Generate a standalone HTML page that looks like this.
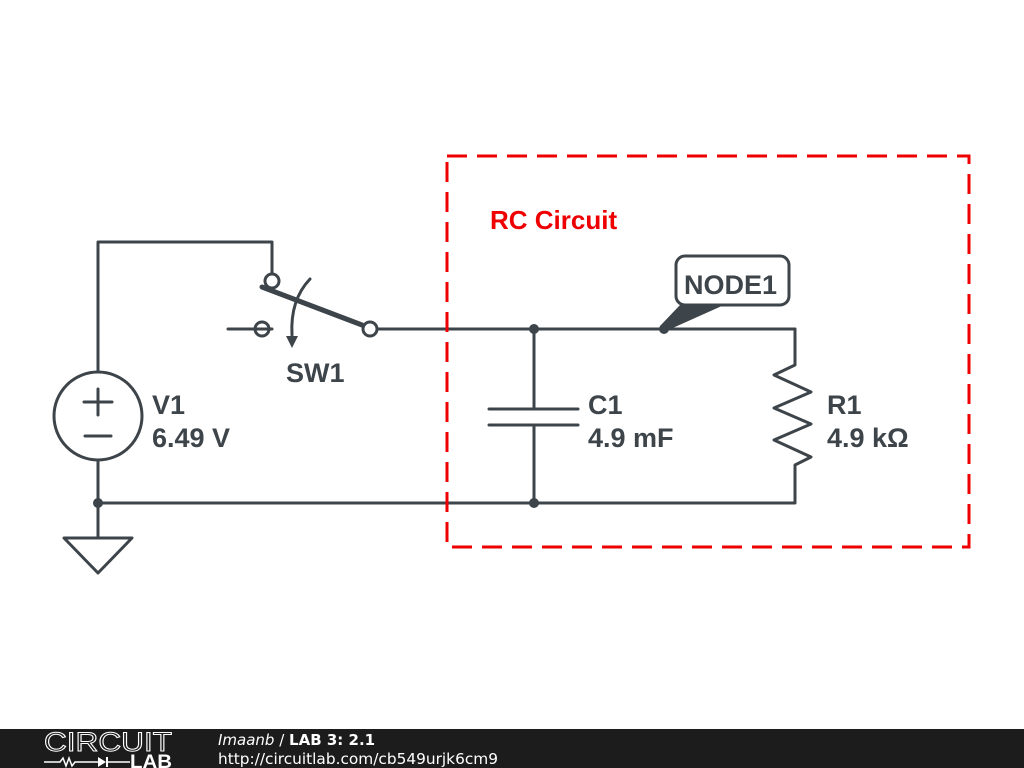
<!DOCTYPE html>
<html><head><style>
body{margin:0;width:1024px;height:768px;background:#fff;overflow:hidden;position:relative}
.f{position:absolute;left:0;top:729px;width:1024px;height:39px;background:#1c1c1c}
</style></head><body>
<svg width="1024" height="768" style="position:absolute;left:0;top:0" font-family="Liberation Sans, sans-serif">
<g stroke="#3d444a" stroke-width="3" fill="none" stroke-linecap="round" stroke-linejoin="round">
<polyline points="98,371 98,242 272,242 272,274"/>
<circle cx="272" cy="281" r="7"/>
<line x1="262" y1="287" x2="362" y2="325" stroke-width="5"/>
<circle cx="370" cy="329" r="7"/>
<line x1="377" y1="329" x2="795" y2="329"/>
<line x1="228" y1="329" x2="272" y2="329"/>
<circle cx="262" cy="329" r="7"/>
<path d="M310,279 Q290,300 292,335"/>
<line x1="534" y1="329" x2="534" y2="409"/>
<line x1="489" y1="409" x2="578" y2="409"/>
<line x1="489" y1="425" x2="578" y2="425"/>
<line x1="534" y1="425" x2="534" y2="503"/>
<polyline points="795,329 795,365 774,375 811,392 774,408 811,424 774,440 811,457 795,465 795,503 98,503"/>
<circle cx="98" cy="416" r="44"/>
<line x1="84" y1="402" x2="112" y2="402"/><line x1="98" y1="389" x2="98" y2="415"/>
<line x1="85" y1="436" x2="111" y2="436"/>
<line x1="98" y1="460" x2="98" y2="538"/>
<polygon points="64,538 132,538 98,573"/>
<rect x="676" y="256" width="113" height="49" rx="9" fill="#fff"/>
</g>
<polygon points="286,336 298,336 292,348" fill="#3d444a"/>
<polygon points="680,305 724,305 666,331 660,326" fill="#3d444a"/>
<g fill="#3d444a"><circle cx="534" cy="329" r="5"/><circle cx="664" cy="329" r="5"/><circle cx="534" cy="503" r="5"/><circle cx="98" cy="503" r="5"/></g>
<rect x="447" y="156" width="522" height="391" fill="none" stroke="#e00" stroke-width="3" stroke-dasharray="20,10"/>
<g font-weight="bold" font-size="27" fill="#3d444a">
<text x="286" y="382">SW1</text>
<text x="152" y="414">V1</text><text x="152" y="447">6.49 V</text>
<text x="588" y="414">C1</text><text x="588" y="447">4.9 mF</text>
<text x="827" y="414">R1</text><text x="827" y="447">4.9 kΩ</text>
<text x="684" y="294">NODE1</text>
</g>
<text x="490" y="229" font-weight="bold" font-size="26" fill="#e00">RC Circuit</text>
</svg>
<div class="f"></div>
<svg width="1024" height="39" style="position:absolute;left:0;top:729px" font-family="DejaVu Sans, sans-serif">
<text x="44" y="22" font-size="27" fill="none" stroke="#fff" stroke-width="1" font-family="Liberation Sans, sans-serif" textLength="128" lengthAdjust="spacingAndGlyphs">CIRCUIT</text>
<polyline points="44,33 60,33 63,29 66,37 69,29 72,37 75,33 98,33" stroke="#fff" fill="none" stroke-width="1.5"/>
<polygon points="98,28 98,38 106,33" fill="#fff"/><line x1="107" y1="28" x2="107" y2="38" stroke="#fff" stroke-width="2"/>
<line x1="107" y1="33" x2="130" y2="33" stroke="#fff" stroke-width="1.5"/>
<text x="130" y="39" font-size="19" font-weight="bold" fill="#fff" font-family="Liberation Sans, sans-serif" textLength="42" lengthAdjust="spacingAndGlyphs">LAB</text>
<text x="218" y="16" font-size="15" fill="#fff"><tspan font-style="italic">Imaanb</tspan> / <tspan font-weight="bold">LAB 3: 2.1</tspan></text>
<text x="218" y="35" font-size="15" fill="#fff" textLength="280" lengthAdjust="spacingAndGlyphs">http://circuitlab.com/cb549urjk6cm9</text>
</svg>
</body></html>
